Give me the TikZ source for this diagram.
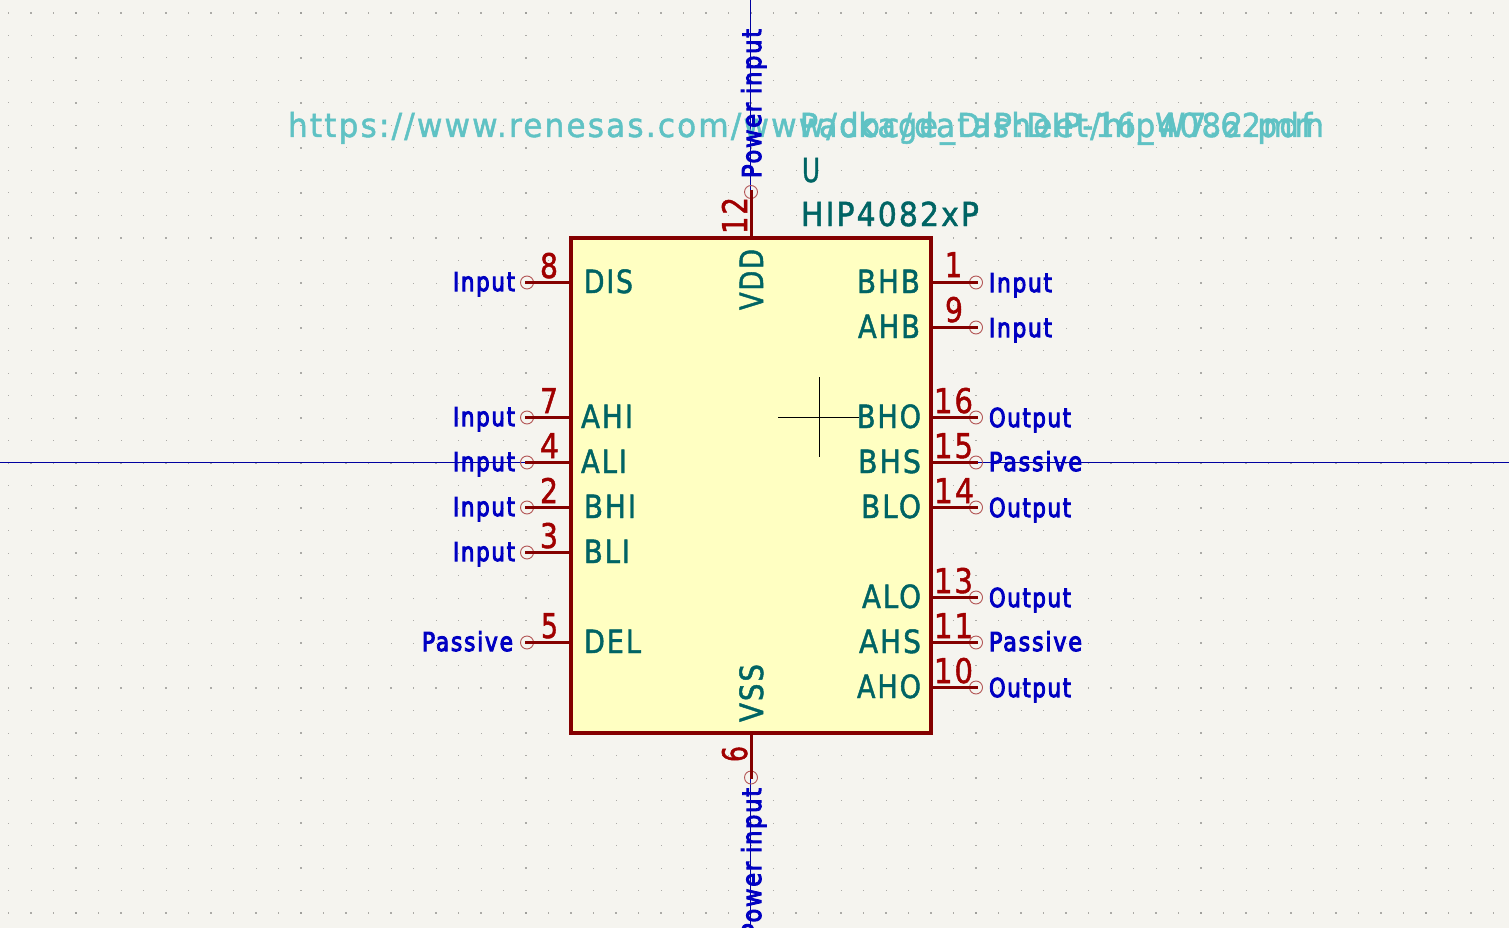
\documentclass[tikz,border=0pt]{standalone}
\usepackage{fontspec}
\usepackage{graphicx}
\setmainfont{DejaVu Sans}
\newfontfamily\kf[LetterSpace=7,FakeBold=1.5]{DejaVu Sans}
\newfontfamily\kb[LetterSpace=8,FakeBold=4]{DejaVu Sans}
\definecolor{bgc}{HTML}{F5F4EF}
\definecolor{bodyc}{HTML}{FFFFC2}
\definecolor{wirec}{HTML}{840000}
\definecolor{numc}{HTML}{A00000}
\definecolor{namec}{HTML}{006464}
\definecolor{bluec}{HTML}{0000C2}
\definecolor{fieldc}{HTML}{5FC2C4}
\definecolor{ringc}{HTML}{B25454}
\definecolor{axisc}{HTML}{0000A0}
\newcommand{\kt}[2]{\resizebox{#1pt}{\height}{#2}}
\tikzset{
  x=1pt,y=-1pt,
  txt/.style={inner sep=0pt,outer sep=0pt,anchor=base west},
  pinname/.style={txt,text=namec,font=\kf\fontsize{32}{32}\selectfont},
  pinnum/.style={txt,text=numc,font=\kf\fontsize{34}{34}\selectfont},
  pintype/.style={txt,text=bluec,font=\kb\fontsize{26}{26}\selectfont},
  field/.style={txt,text=fieldc,font=\kf\fontsize{33}{33}\selectfont},
  valfield/.style={txt,text=namec,font=\kf\fontsize{33}{33}\selectfont},
  ring/.style={circle,draw=ringc,line width=0.9pt,minimum size=13pt,inner sep=0pt,outer sep=0pt},
  wire/.style={draw=wirec,line width=3pt},
  axis/.style={draw=axisc,line width=1pt},
}
\begin{document}
\begin{tikzpicture}
\useasboundingbox (0,0) rectangle (1509,928);
\fill[bgc] (0,0) rectangle (1509,928);
% grid dots
\foreach \k in {0,...,66}{
  \foreach \j in {0,...,40}{
    \pgfmathtruncatemacro{\mk}{mod(\k,10)==3 ? 1 : 0}
    \pgfmathtruncatemacro{\mj}{mod(\j,10)==0 ? 1 : 0}
    \pgfmathsetmacro{\dx}{8.5+22.5*\k}
    \pgfmathsetmacro{\dy}{13+22.5*\j}
    \pgfmathsetmacro{\ds}{(\mk+\mj==2) ? 1.0 : ((\mk+\mj==1) ? 0.7 : 0.5)}
    \pgfmathsetmacro{\dc}{(\mk+\mj==2) ? 35 : 30}
    \fill[black!\dc!bgc] (\dx-\ds,\dy-\ds) rectangle (\dx+\ds,\dy+\ds);
  }
}
% axes
\coordinate (axL) at (0,462.5);
\coordinate (axR) at (1509,462.5);
\coordinate (axT) at (750.7,0);
\coordinate (axB) at (750.7,928);
\draw[axis] (axL) -- (axR);
\draw[axis] (axT) -- (axB);
% body
\node[draw=wirec,fill=bodyc,line width=4pt,rectangle,inner sep=0pt,outer sep=0pt,
      minimum width=360pt,minimum height=495pt] (body) at (751,485.5) {};
% pins
\foreach \n/\x/\y in {p8/527/282.5,p7/527/417.5,p4/527/462.5,p2/527/507.5,p3/527/552.5,p5/527/642.5}{
  \node[ring] (\n) at (\x,\y) {};
  \draw[wire] (\n.center) ++(-2,0) -- (\n.center -| body.west);
}
\foreach \n/\x/\y in {p1/976/282.5,p9/976/327.5,p16/976/417.5,p15/976/462.5,p14/976/507.5,p13/976/597.5,p11/976/642.5,p10/976/687.5}{
  \node[ring] (\n) at (\x,\y) {};
  \draw[wire] (\n.center) ++(2,0) -- (\n.center -| body.east);
}
\node[ring] (p12) at (751,192) {};
\draw[wire] (751.5,190) -- (751.5,238);
\node[ring] (p6) at (751,777.5) {};
\draw[wire] (751.5,733) -- (751.5,779);
% crosshair
\coordinate (chL) at (778,417.5);
\coordinate (chR) at (859,417.5);
\coordinate (chT) at (819,377);
\coordinate (chB) at (819,457);
\draw[black,line width=1pt] (chL) -- (chR);
\draw[black,line width=1pt] (chT) -- (chB);
% fields
\node[field] (url) at (288,137) {\kt{1024}{https://www.renesas.com/www/doc/datasheet/hip4082.pdf}};
\node[field] (pkg) at (800,137) {\kt{524}{Package\_DIP:DIP-16\_W7.62mm}};
\node[valfield] (refd) at (802,182) {\kt{18}{U}};
\node[valfield] (val) at (801,226) {\kt{178}{HIP4082xP}};
% pin names
\foreach \n/\x/\y/\w/\t in {nDIS/584/293/49/DIS,nAHI/581/428/52/AHI,nALI/581/473/46/ALI,nBHI/584/518/52/BHI,nBLI/584/563/46/BLI,nDEL/584/653/57/DEL,
  nBHB/857/293/63/BHB,nAHB/858/338/62/AHB,nBHO/857/428/64/BHO,nBHS/858/473/63/BHS,nBLO/861/518/60/BLO,nALO/862/608/59/ALO,nAHS/859/653/62/AHS,nAHO/857/698/64/AHO}{
  \node[pinname] (\n) at (\x,\y) {\kt{\w}{\t}};
}
\node[pinname,rotate=90] (nVDD) at (763,310) {\kt{61}{VDD}};
\node[pinname,rotate=90] (nVSS) at (763,722) {\kt{58}{VSS}};
% pin numbers
\foreach \n/\x/\y/\w/\t in {t8/540/278/18/8,t7/540/413/18/7,t4/540/458/19/4,t2/540/503/18/2,t3/540/548/18/3,t5/541/638/17/5,
  t1/945/277/17/1,t9/945/322/18/9,t16/934/413/39/16,t15/934/458/39/15,t14/934/503/40/14,t13/934/593/39/13,t11/934/638/39/11,t10/934/683/39/10}{
  \node[pinnum] (\n) at (\x,\y) {\kt{\w}{\t}};
}
\node[pinnum,rotate=90] (t12) at (747,234) {\kt{37}{12}};
\node[pinnum,rotate=90] (t6) at (747,762) {\kt{16}{6}};
% pin types
\foreach \n/\x/\y/\w/\t in {l8/453/291/62/Input,l7/453/426/62/Input,l4/453/471/62/Input,l2/453/516/62/Input,l3/453/561/62/Input,l5/422/651/91/Passive,
  r1/989/292/63/Input,r9/989/337/63/Input,r16/989/427/82/Output,r15/989/471/93/Passive,r14/989/517/82/Output,r13/989/607/82/Output,r11/989/651/93/Passive,r10/989/697/82/Output}{
  \node[pintype] (\n) at (\x,\y) {\kt{\w}{\t}};
}
\node[pintype,rotate=90] (l12) at (761,178) {\kt{149}{Power input}};
\node[pintype,rotate=90] (l6) at (761,937) {\kt{149}{Power input}};
\end{tikzpicture}
\end{document}
